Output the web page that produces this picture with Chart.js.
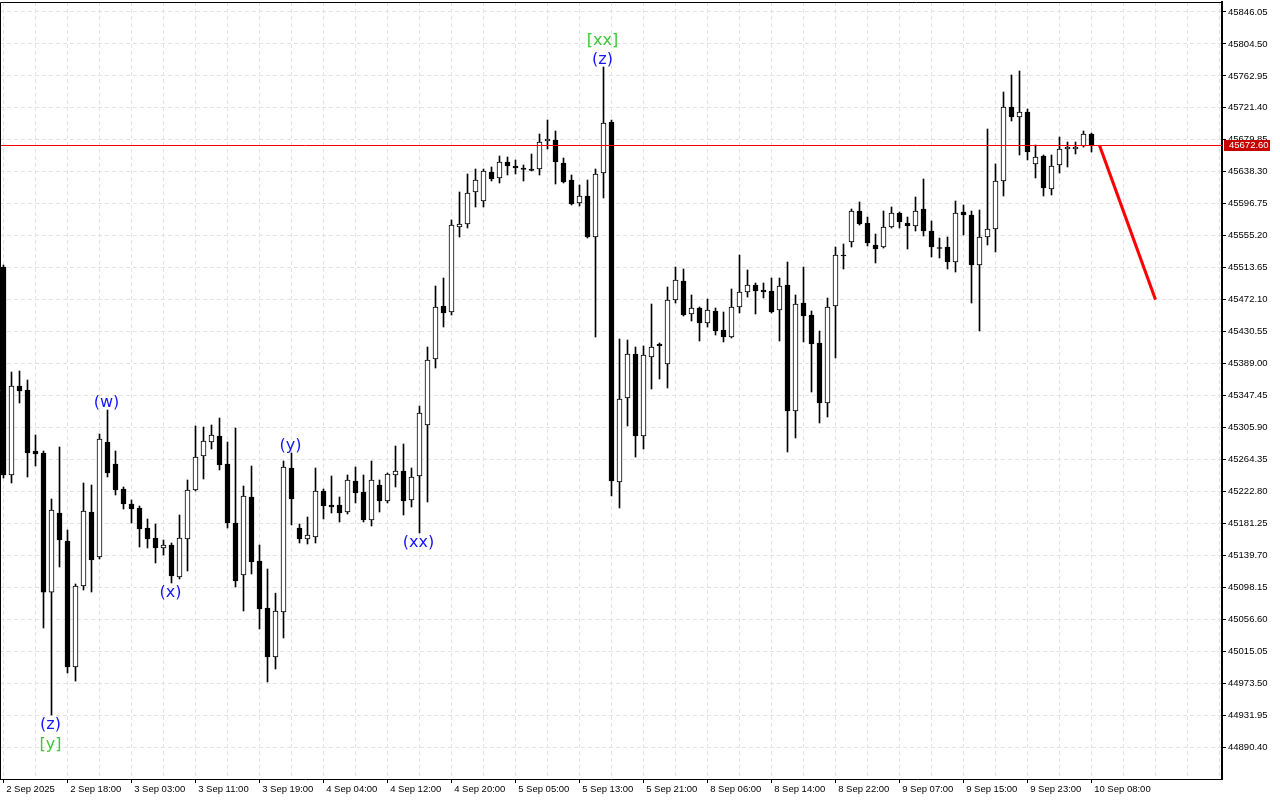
<!DOCTYPE html>
<html>
<head>
<meta charset="utf-8">
<script src="https://cdn.jsdelivr.net/npm/chart.js@4.4.1/dist/chart.umd.min.js"></script>
<style>
    html, body { margin: 0; padding: 0; background: #fff; }
    #wrap { width: 1280px; height: 800px; }
</style>
</head>
<body>
<div id="wrap"><canvas id="priceChart" width="1280" height="800"></canvas></div>
<script>
// H1 candles, 2 Sep 10:00 .. 10 Sep 08:00 (one label every 8 bars)
const timeLabels = ['2 Sep 2025', '2 Sep 18:00', '3 Sep 03:00', '3 Sep 11:00', '3 Sep 19:00', '4 Sep 04:00',
    '4 Sep 12:00', '4 Sep 20:00', '5 Sep 05:00', '5 Sep 13:00', '5 Sep 21:00', '8 Sep 06:00',
    '8 Sep 14:00', '8 Sep 22:00', '9 Sep 07:00', '9 Sep 15:00', '9 Sep 23:00', '10 Sep 08:00'];

const opens = [45514.5, 45244.1, 45359.8, 45354.6, 45275.3, 45272.7, 45091.8, 45194.7, 45158.3, 44994.5,
    45099.8, 45196.0, 45137.5, 45287.0, 45258.4, 45225.9, 45206.4, 45201.2, 45175.2, 45162.2,
    45149.2, 45153.1, 45111.5, 45160.9, 45224.6, 45268.8, 45287.0, 45294.8, 45258.4, 45181.7,
    45114.1, 45215.5, 45132.3, 45071.2, 45007.5, 45066.0, 45253.2, 45175.2, 45160.9, 45163.5,
    45223.3, 45205.1, 45205.1, 45196.0, 45236.3, 45222.0, 45185.6, 45231.1, 45210.3, 45244.1,
    45249.3, 45211.6, 45242.8, 45309.1, 45394.9, 45463.8, 45456.0, 45566.5, 45570.4, 45612.0,
    45600.3, 45638.0, 45630.2, 45651.0, 45645.8, 45643.2, 45641.9, 45641.9, 45678.3, 45679.6,
    45649.7, 45627.6, 45597.7, 45606.8, 45553.5, 45636.7, 45703.0, 45235.0, 45344.2, 45401.4,
    45294.8, 45397.5, 45414.4, 45388.4, 45471.6, 45496.3, 45453.4, 45461.2, 45441.7, 45457.3,
    45432.6, 45423.5, 45462.5, 45482.0, 45491.1, 45484.6, 45483.3, 45458.6, 45491.1, 45327.3,
    45467.7, 45452.1, 45415.7, 45337.7, 45463.8, 45530.1, 45547.0, 45587.3, 45571.7, 45543.1,
    45540.5, 45566.5, 45584.7, 45571.7, 45567.8, 45589.9, 45561.3, 45539.9, 45540.5, 45521.0,
    45586.0, 45582.1, 45517.1, 45553.5, 45563.9, 45626.3, 45722.5, 45709.5, 45716.0, 45648.4,
    45658.8, 45615.9, 45647.1, 45667.9, 45667.9, 45671.8, 45687.4];

const highs = [45517.1, 45378.0, 45379.3, 45367.6, 45296.1, 45275.3, 45212.9, 45280.5, 45172.6, 45102.4,
    45233.7, 45231.1, 45297.4, 45328.6, 45275.3, 45228.5, 45211.6, 45203.8, 45186.9, 45180.4,
    45159.6, 45155.7, 45192.1, 45237.6, 45307.8, 45306.5, 45309.1, 45318.2, 45287.0, 45305.2,
    45229.8, 45255.8, 45153.1, 45121.9, 45090.5, 45262.3, 45272.7, 45180.4, 45189.5, 45253.2,
    45225.9, 45242.8, 45215.5, 45244.1, 45254.5, 45244.1, 45262.3, 45237.6, 45246.7, 45281.8,
    45284.4, 45253.2, 45333.8, 45410.5, 45489.8, 45500.2, 45575.6, 45612.0, 45635.4, 45641.9,
    45641.9, 45644.5, 45658.8, 45657.5, 45653.6, 45647.1, 45661.4, 45687.4, 45705.6, 45691.3,
    45656.2, 45634.1, 45621.1, 45627.6, 45641.9, 45774.5, 45705.6, 45420.9, 45419.6, 45410.5,
    45411.8, 45466.4, 45415.7, 45488.5, 45514.5, 45511.9, 45478.1, 45462.5, 45472.9, 45461.2,
    45456.0, 45485.9, 45530.1, 45510.6, 45493.7, 45493.7, 45500.2, 45500.2, 45521.0, 45478.1,
    45514.5, 45457.3, 45431.3, 45474.2, 45540.5, 45544.4, 45589.9, 45599.0, 45579.5, 45557.4,
    45587.3, 45592.5, 45586.0, 45579.5, 45605.5, 45628.9, 45574.3, 45552.2, 45553.5, 45600.3,
    45595.1, 45587.3, 45588.6, 45693.9, 45648.4, 45742.0, 45764.1, 45769.3, 45719.9, 45673.1,
    45660.1, 45660.1, 45683.5, 45677.0, 45677.0, 45691.3, 45688.7];

const lows = [45240.2, 45233.7, 45337.7, 45241.5, 45255.8, 45045.2, 44932.1, 45124.5, 44986.7, 44976.3,
    45094.6, 45092.0, 45134.9, 45241.5, 45218.1, 45199.9, 45181.7, 45150.5, 45149.2, 45129.7,
    45140.1, 45103.7, 45108.9, 45119.3, 45223.3, 45238.9, 45277.9, 45250.6, 45175.2, 45098.5,
    45067.3, 45115.4, 45043.9, 44975.0, 44991.9, 45032.2, 45179.1, 45155.7, 45154.4, 45155.7,
    45186.9, 45194.7, 45183.0, 45193.4, 45207.7, 45183.0, 45177.8, 45196.0, 45207.7, 45228.5,
    45192.1, 45202.5, 45168.7, 45209.0, 45383.2, 45436.5, 45452.1, 45553.5, 45565.2, 45592.5,
    45592.5, 45626.3, 45623.7, 45634.1, 45635.4, 45626.3, 45639.3, 45634.1, 45667.9, 45622.4,
    45623.7, 45595.1, 45593.8, 45552.2, 45423.5, 45604.2, 45216.8, 45201.2, 45307.8, 45267.5,
    45277.9, 45355.9, 45368.9, 45357.2, 45467.7, 45450.8, 45444.3, 45418.3, 45436.5, 45426.1,
    45417.0, 45422.2, 45454.7, 45475.5, 45453.4, 45474.2, 45454.7, 45418.3, 45274.0, 45292.2,
    45417.0, 45352.0, 45311.7, 45319.5, 45396.2, 45511.9, 45540.5, 45569.1, 45541.8, 45519.7,
    45539.2, 45565.2, 45565.2, 45537.9, 45561.3, 45554.8, 45527.5, 45526.2, 45511.9, 45508.0,
    45556.1, 45467.7, 45431.3, 45543.1, 45534.0, 45606.8, 45704.3, 45660.1, 45653.6, 45630.2,
    45606.8, 45608.1, 45636.7, 45644.5, 45661.4, 45670.5, 45664.0];

const closes = [45244.1, 45359.8, 45353.3, 45272.7, 45271.4, 45091.8, 45198.6, 45159.6, 44994.5, 45099.8,
    45197.3, 45133.6, 45290.9, 45246.7, 45224.6, 45206.4, 45199.9, 45173.9, 45160.9, 45149.2,
    45153.1, 45112.8, 45162.2, 45224.6, 45267.5, 45288.3, 45296.1, 45257.1, 45181.7, 45106.3,
    45216.8, 45131.0, 45069.9, 45007.5, 45067.3, 45254.5, 45212.9, 45160.9, 45166.1, 45223.3,
    45203.8, 45202.5, 45194.7, 45237.6, 45220.7, 45185.6, 45237.6, 45210.3, 45245.4, 45249.3,
    45210.3, 45241.5, 45324.7, 45393.6, 45462.5, 45454.7, 45569.1, 45570.4, 45610.7, 45627.6,
    45639.3, 45628.9, 45651.0, 45645.8, 45643.2, 45641.3, 45640.0, 45677.0, 45680.9, 45651.0,
    45625.0, 45596.4, 45606.8, 45553.5, 45635.4, 45701.7, 45236.3, 45342.9, 45401.4, 45294.8,
    45400.1, 45410.5, 45411.8, 45471.6, 45497.6, 45452.1, 45461.2, 45441.7, 45458.6, 45431.3,
    45423.5, 45462.5, 45482.0, 45491.1, 45483.3, 45482.0, 45456.0, 45489.8, 45327.3, 45466.4,
    45450.8, 45414.4, 45337.7, 45462.5, 45530.1, 45528.8, 45587.3, 45570.4, 45545.7, 45537.9,
    45566.5, 45584.7, 45573.0, 45567.8, 45587.3, 45561.3, 45540.5, 45538.6, 45521.0, 45584.7,
    45582.1, 45517.1, 45553.5, 45563.9, 45626.3, 45722.5, 45709.5, 45716.0, 45664.0, 45657.5,
    45617.2, 45645.8, 45667.9, 45670.5, 45670.5, 45687.4, 45672.6];

const yTicks = [44890.40, 44931.95, 44973.50, 45015.05, 45056.60, 45098.15, 45139.70, 45181.25,
    45222.80, 45264.35, 45305.90, 45347.45, 45389.00, 45430.55, 45472.10, 45513.65, 45555.20,
    45596.75, 45638.30, 45679.85, 45721.40, 45762.95, 45804.50, 45846.05];

const lastPrice = 45672.60;
const forecastBars = [137, 144];
const forecastPrices = [45672.60, 45472.10];

// wave marks: bar index, text, colour, above/below the candle, stacking level
const waveLabels = [
    { idx: 6, text: '(z)', color: '#1414ff', side: 'below', level: 0 },
    { idx: 6, text: '[y]', color: '#3cc83c', side: 'below', level: 1 },
    { idx: 13, text: '(w)', color: '#1414ff', side: 'above', level: 0 },
    { idx: 21, text: '(x)', color: '#1414ff', side: 'below', level: 0 },
    { idx: 36, text: '(y)', color: '#1414ff', side: 'above', level: 0 },
    { idx: 52, text: '(xx)', color: '#1414ff', side: 'below', level: 0 },
    { idx: 75, text: '(z)', color: '#1414ff', side: 'above', level: 0 },
    { idx: 75, text: '[xx]', color: '#3cc83c', side: 'above', level: 1 }
];

const xMin = -0.4375, xMax = 152.3125;
const yMin = 44848.9, yMax = 45859.0;

const bodyData = opens.map((o, i) => ({ x: i, y: [o, closes[i]] }));
const wickData = lows.map((l, i) => ({ x: i, y: [l, highs[i]] }));
const bodyFill = opens.map((o, i) => closes[i] > o ? '#ffffff' : '#000000');

const axisFont = { family: 'Liberation Sans', size: 9.5 };

// no label overhang padding: plot area runs edge to edge like the terminal
function noPadding(scale) {
    scale.paddingLeft = 0;
    scale.paddingRight = 0;
    scale.paddingTop = 0;
    scale.paddingBottom = 0;
}

const chartFrame = {
    id: 'chartFrame',
    afterDatasetsDraw(chart) {
        // last price line
        const { ctx, chartArea, scales } = chart;
        const py = Math.round(scales.y.getPixelForValue(lastPrice)) + 0.5;
        ctx.save();
        ctx.setLineDash([]);
        ctx.globalAlpha = 1;
        ctx.strokeStyle = '#ff0000';
        ctx.lineWidth = 1;
        ctx.beginPath();
        ctx.moveTo(chartArea.left, py);
        ctx.lineTo(chartArea.right, py);
        ctx.stroke();
        ctx.restore();
    },
    afterDraw(chart) {
        const { ctx, chartArea, scales } = chart;
        ctx.save();
        // frame top / left
        ctx.strokeStyle = '#000';
        ctx.lineWidth = 1;
        ctx.beginPath();
        ctx.moveTo(chartArea.left + 0.5, chartArea.bottom);
        ctx.lineTo(chartArea.left + 0.5, chartArea.top + 0.5);
        ctx.lineTo(chartArea.right, chartArea.top + 0.5);
        ctx.stroke();
        // last price box on the price scale
        const py = Math.round(scales.y.getPixelForValue(lastPrice));
        ctx.fillStyle = '#c80000';
        ctx.fillRect(chartArea.right + 2, py - 5, 46, 11);
        ctx.fillStyle = '#ffffff';
        ctx.font = '9.5px "Liberation Sans"';
        ctx.textBaseline = 'middle';
        ctx.textAlign = 'left';
        ctx.fillText(lastPrice.toFixed(2), chartArea.right + 7, py + 0.5);
        ctx.restore();
    }
};

const waveMarks = {
    id: 'waveMarks',
    afterDatasetsDraw(chart) {
        const { ctx, scales: { x, y } } = chart;
        ctx.save();
        ctx.font = '16px "DejaVu Sans"';
        ctx.textAlign = 'center';
        ctx.textBaseline = 'middle';
        waveLabels.forEach(w => {
            const px = x.getPixelForValue(w.idx) - 1;
            let py;
            if (w.side === 'above') {
                py = y.getPixelForValue(highs[w.idx]) - 7 - 19.5 * w.level;
            } else {
                py = y.getPixelForValue(lows[w.idx]) + 10 + 19.5 * w.level;
            }
            ctx.fillStyle = w.color;
            ctx.fillText(w.text, px, py);
        });
        ctx.restore();
    }
};

const ctx = document.getElementById('priceChart').getContext('2d');
const priceChart = new Chart(ctx, {
    type: 'bar',
    data: {
        datasets: [
            {
                type: 'line',
                label: 'forecast',
                data: forecastBars.map((b, i) => ({ x: b, y: forecastPrices[i] })),
                borderColor: '#ff0000',
                borderWidth: 3,
                pointRadius: 0,
                order: -1
            },
            {
                label: 'body',
                data: bodyData,
                backgroundColor: bodyFill,
                borderColor: '#000000',
                borderWidth: 1,
                borderSkipped: false,
                barThickness: 5,
                grouped: false,
                order: 0
            },
            {
                label: 'wick',
                data: wickData,
                backgroundColor: '#000000',
                borderWidth: 0,
                barThickness: 1,
                grouped: false,
                order: 1
            }
        ]
    },
    options: {
        responsive: false,
        devicePixelRatio: 1,
        animation: false,
        layout: { padding: { top: 2, left: 0, right: 0, bottom: 0 } },
        scales: {
            x: {
                type: 'linear',
                min: xMin,
                max: xMax,
                bounds: 'data',
                offset: false,
                afterBuildTicks: (scale) => {
                    const t = [];
                    for (let v = 0; v <= xMax; v += 4) t.push({ value: v });
                    scale.ticks = t;
                },
                afterFit: (scale) => { scale.height = 21; noPadding(scale); },
                grid: {
                    offset: false,
                    color: '#e3e3e3',
                    lineWidth: 1,
                    tickLength: 4,
                    tickColor: (c) => (c.tick && c.tick.value % 8 === 0 && timeLabels[c.tick.value / 8]) ? '#000' : 'rgba(0,0,0,0)'
                },
                border: { color: '#000', width: 1, dash: [4, 3] },
                ticks: {
                    autoSkip: false,
                    maxRotation: 0,
                    minRotation: 0,
                    align: 'start',
                    padding: 1,
                    color: '#000',
                    font: axisFont,
                    callback: (v) => (v % 8 === 0 && timeLabels[v / 8]) ? ' ' + timeLabels[v / 8] : ''
                }
            },
            y: {
                type: 'linear',
                position: 'right',
                min: yMin,
                max: yMax,
                bounds: 'data',
                afterBuildTicks: (scale) => { scale.ticks = yTicks.map(v => ({ value: v })); },
                afterFit: (scale) => { scale.width = 58; noPadding(scale); },
                grid: { color: '#e3e3e3', lineWidth: 1, tickLength: 4, tickColor: '#000' },
                border: { color: '#000', width: 2, dash: [4, 3] },
                ticks: {
                    padding: 2,
                    color: '#000',
                    font: axisFont,
                    callback: (v) => v.toFixed(2)
                }
            }
        },
        plugins: {
            legend: { display: false },
            tooltip: { enabled: false }
        }
    },
    plugins: [chartFrame, waveMarks]
});
</script>
</body>
</html>
